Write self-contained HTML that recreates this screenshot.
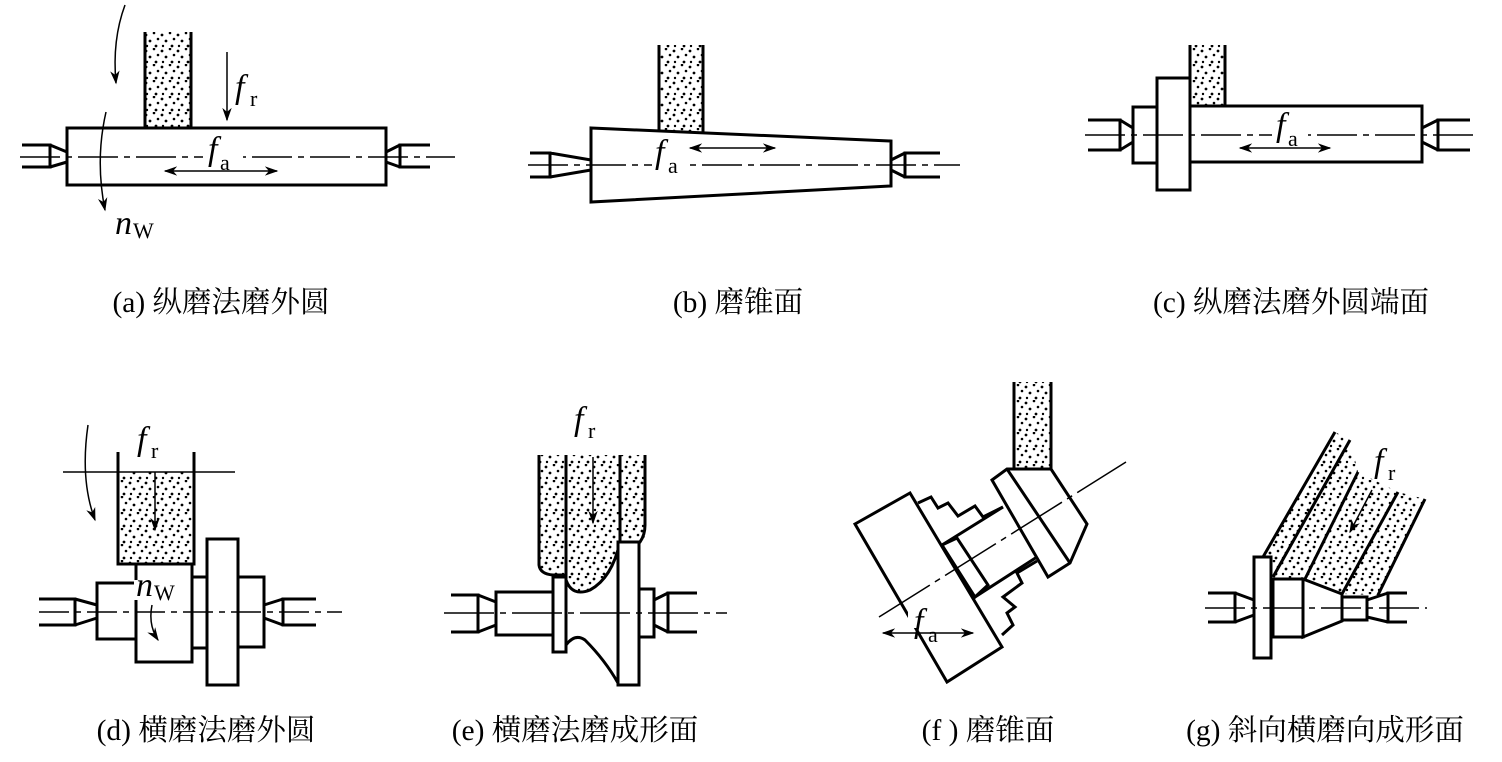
<!DOCTYPE html>
<html><head><meta charset="utf-8"><style>
html,body{margin:0;padding:0;background:#fff;}
svg{display:block;}
text{font-family:"Liberation Serif","Noto Serif CJK SC",serif;fill:#000;}
.cap{font-size:29.5px;}
.it{font-style:italic;font-size:34px;}
.sub{font-size:22px;}
</style></head><body>
<svg width="1502" height="762" viewBox="0 0 1502 762" xmlns="http://www.w3.org/2000/svg">
<defs>
<pattern id="dots" width="16" height="16" patternUnits="userSpaceOnUse">
<circle cx="2" cy="3" r="1.4"/><circle cx="10" cy="1" r="1.3"/><circle cx="6" cy="9" r="1.4"/><circle cx="14" cy="7" r="1.3"/><circle cx="12" cy="14" r="1.4"/><circle cx="3" cy="14" r="1.2"/>
</pattern>
<marker id="ah" viewBox="0 0 10 10" refX="9" refY="5" markerWidth="9" markerHeight="9" orient="auto-start-reverse"><path d="M0,1.5 L10,5 L0,8.5 L3,5 Z" fill="#000"/></marker>
</defs>
<g fill="none" stroke="#000" stroke-width="3" stroke-linejoin="miter">

<!-- (a) -->
<rect x="145" y="32" width="46" height="96" fill="url(#dots)" stroke="none"/>
<path d="M145 32V128M191 32V128"/>
<rect x="67" y="128" width="319" height="57" fill="#fff"/>
<path d="M22 145H50V167H22M50 145L67 152M50 167L67 162"/>
<path d="M430 145H400V167H430M400 145L386 152M400 167L386 162"/>
<path d="M20 157H455" stroke-width="1.5" stroke-dasharray="40 6 6 6"/>
<path d="M227 52V120" stroke-width="1.5" marker-end="url(#ah)"/>
<path d="M165 171H277" stroke-width="1.5" marker-start="url(#ah)" marker-end="url(#ah)"/>
<path d="M125 5Q112 40 116 83" stroke-width="1.5" marker-end="url(#ah)"/>
<path d="M106 112Q95 160 105 210" stroke-width="1.5" marker-end="url(#ah)"/>

<!-- (b) -->
<rect x="659" y="45" width="44" height="87" fill="url(#dots)" stroke="none"/>
<path d="M659 45V130M703 45V132"/>
<path d="M591 128L891 141V186L591 202Z" fill="#fff"/>
<path d="M530 153H550V177H530M550 153L591 160M550 177L591 170"/>
<path d="M940 153H905V177H940M905 153L891 160M905 177L891 170"/>
<path d="M528 165H960" stroke-width="1.5" stroke-dasharray="40 6 6 6"/>
<path d="M690 148H775" stroke-width="1.5" marker-start="url(#ah)" marker-end="url(#ah)"/>

<!-- (c) -->
<rect x="1190" y="45" width="35" height="61" fill="url(#dots)" stroke="none"/>
<path d="M1190 45V106M1225 45V106"/>
<rect x="1133" y="107" width="24" height="56" fill="#fff"/>
<rect x="1157" y="78" width="33" height="112" fill="#fff"/>
<rect x="1190" y="106" width="232" height="56" fill="#fff"/>
<path d="M1088 120H1120V150H1088M1120 120L1133 128M1120 150L1133 142"/>
<path d="M1470 120H1438V150H1470M1438 120L1422 128M1438 150L1422 142"/>
<path d="M1085 135H1475" stroke-width="1.5" stroke-dasharray="40 6 6 6"/>
<path d="M1240 148H1330" stroke-width="1.5" marker-start="url(#ah)" marker-end="url(#ah)"/>

<!-- (d) -->
<rect x="118" y="472" width="76" height="92" fill="url(#dots)" stroke="none"/>
<path d="M118 452V564H194V452"/>
<path d="M63 472H235" stroke-width="1.5"/>
<path d="M155 472V530" stroke-width="1.5" marker-end="url(#ah)"/>
<path d="M88 425Q80 480 95 520" stroke-width="1.5" marker-end="url(#ah)"/>
<rect x="97" y="583" width="39" height="56" fill="#fff"/>
<rect x="136" y="564" width="56" height="98" fill="#fff"/>
<rect x="192" y="577" width="15" height="71" fill="#fff"/>
<rect x="207" y="539" width="31" height="146" fill="#fff"/>
<rect x="238" y="577" width="26" height="70" fill="#fff"/>
<path d="M39 599H75V625H39M75 599L97 605M75 625L97 618"/>
<path d="M316 599H283V625H316M283 599L264 605M283 625L264 618"/>
<path d="M39 612H342" stroke-width="1.5" stroke-dasharray="30 6 6 6"/>
<path d="M152 605Q148 625 158 640" stroke-width="1.5" marker-end="url(#ah)"/>

<!-- (e) -->
<path d="M539 455V565Q540 572 553 574L566 577V580Q570 595 590 590Q615 575 620 540H645V455Z" fill="url(#dots)" stroke="none"/>
<path d="M539 455V565Q540 574 553 575H566"/>
<path d="M566 455V580Q572 597 590 590Q612 578 620 542"/>
<path d="M620 455V542H640Q645 535 645 525V455"/>
<path d="M593 457V523" stroke-width="1.5" marker-end="url(#ah)"/>
<rect x="496" y="592" width="57" height="43" fill="#fff"/>
<rect x="553" y="577" width="13" height="75" fill="#fff"/>
<path d="M566 645Q575 633 585 640Q605 660 618 683"/>
<rect x="618" y="542" width="21" height="143" fill="#fff"/>
<rect x="639" y="589" width="15" height="48" fill="#fff"/>
<path d="M451 595H478V632H451M478 595L496 602M478 632L496 625"/>
<path d="M697 593H668V632H697M668 593L654 600M668 632L654 625"/>
<path d="M444 613H727" stroke-width="1.5" stroke-dasharray="50 6 6 6"/>

<!-- (f) -->
<rect x="1014" y="382" width="37" height="87" fill="url(#dots)" stroke="none"/>
<path d="M1014 382V469M1051 382V469"/>
<path d="M918 503L931 497L938 508L948 503L958 516L975 506L983 517L1003 507" />
<path d="M1002 635L1013 625L1007 613L1015 607L1003 597L1022 583L1017 573L1037 561"/>
<path d="M942 545L1003 507M975 597L1037 557"/>
<path d="M942 545L957 538L988 585L975 597Z" fill="#fff"/>
<path d="M855 524L910 493L1002 647L947 682Z" fill="#fff"/>
<path d="M992 480L1007 469L1051 469L1087 524L1070 563L1048 577Z" fill="#fff"/>
<path d="M1007 469L1070 563"/>
<path d="M879 617L1126 462" stroke-width="1.5" stroke-dasharray="60 6 6 6"/>
<path d="M883 633H973" stroke-width="1.5" marker-start="url(#ah)" marker-end="url(#ah)"/>

<!-- (g) -->
<path d="M1263 557L1335 432L1350 440L1358 472L1398 492L1425 499L1378 595L1342 594L1303 579L1273 577L1271 557Z" fill="url(#dots)" stroke="none"/>
<path d="M1263 557L1335 432M1273 577L1350 440M1305 579L1358 472M1342 594L1398 492M1378 595L1425 499"/>
<path d="M1372 490L1350 532" stroke-width="1.5" marker-end="url(#ah)"/>
<rect x="1254" y="557" width="17" height="101" fill="#fff"/>
<rect x="1273" y="579" width="30" height="58" fill="#fff"/>
<path d="M1303 579L1342 594V621L1303 637Z" fill="#fff"/>
<rect x="1342" y="597" width="25" height="23" fill="#fff"/>
<path d="M1208 593H1235V622H1208M1235 593L1254 600M1235 622L1254 615"/>
<path d="M1407 593H1388V622H1407M1388 593L1367 600M1388 622L1367 617"/>
<path d="M1205 608H1427" stroke-width="1.5" stroke-dasharray="40 6 6 6"/>
</g>

<!-- label backgrounds -->
<g fill="#fff">
<rect x="203" y="150" width="40" height="14"/>
<rect x="652" y="160" width="32" height="12"/>
<rect x="1272" y="128" width="36" height="14"/>
<rect x="134" y="580" width="42" height="20"/>
<rect x="908" y="612" width="36" height="16"/>
</g>

<!-- labels -->
<text x="235" y="98" class="it">f</text><text x="250" y="106" class="sub">r</text>
<text x="208" y="160" class="it">f</text><text x="220" y="170" class="sub">a</text>
<text x="115" y="234" class="it">n</text><text x="133" y="238" class="sub">W</text>
<text x="655" y="163" class="it">f</text><text x="668" y="173" class="sub">a</text>
<text x="1276" y="136" class="it">f</text><text x="1288" y="146" class="sub">a</text>
<text x="137" y="450" class="it">f</text><text x="151" y="458" class="sub">r</text>
<text x="136" y="596" class="it">n</text><text x="154" y="600" class="sub">W</text>
<text x="574" y="430" class="it">f</text><text x="588" y="438" class="sub">r</text>
<text x="914" y="632" class="it">f</text><text x="928" y="642" class="sub">a</text>
<text x="1374" y="472" class="it">f</text><text x="1388" y="480" class="sub">r</text>

<text x="221" y="312" class="cap" text-anchor="middle">(a) 纵磨法磨外圆</text>
<text x="738" y="312" class="cap" text-anchor="middle">(b) 磨锥面</text>
<text x="1291" y="312" class="cap" text-anchor="middle">(c) 纵磨法磨外圆端面</text>
<text x="206" y="740" class="cap" text-anchor="middle">(d) 横磨法磨外圆</text>
<text x="575" y="740" class="cap" text-anchor="middle">(e) 横磨法磨成形面</text>
<text x="988" y="740" class="cap" text-anchor="middle">(f ) 磨锥面</text>
<text x="1325" y="740" class="cap" text-anchor="middle">(g) 斜向横磨向成形面</text>
</svg>
</body></html>
